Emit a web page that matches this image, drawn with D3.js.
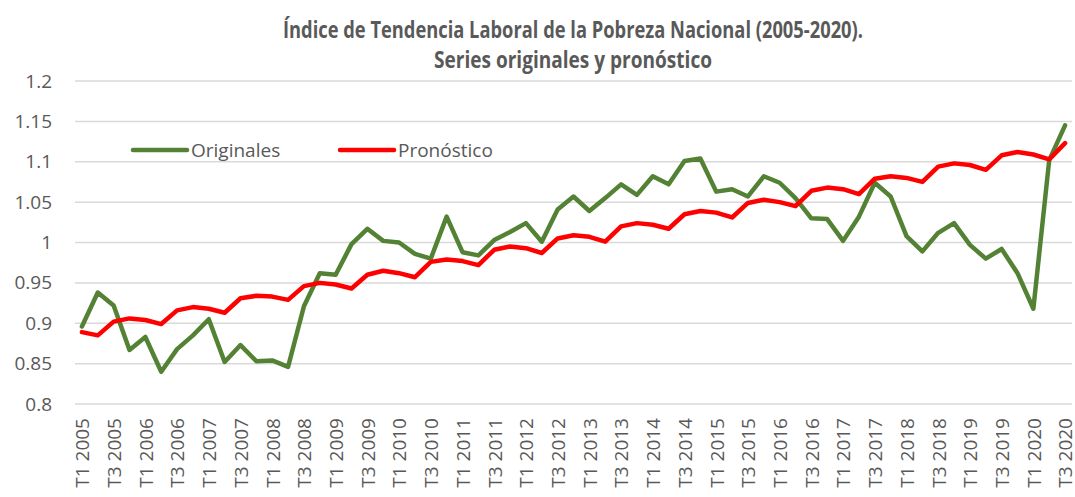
<!DOCTYPE html>
<html>
<head>
<meta charset="utf-8">
<script src="https://cdn.jsdelivr.net/npm/d3@7"></script>
<style>
  body { margin: 0; background: #fff; }
  text { font-family: "Open Sans", "DejaVu Sans", sans-serif; fill: #595959; }
</style>
</head>
<body>
<div id="chart"></div>
<script>
// categories: quarters T1/T3 ... of each year 2005-2020 (up to T3 2020)
var years = [2005, 2006, 2007, 2008, 2009, 2010, 2011, 2012, 2013, 2014, 2015, 2016, 2017, 2018, 2019, 2020];
var quarters = ["T1", "T2", "T3", "T4"];
var periods = [];
years.forEach(function(y) {
  quarters.forEach(function(q) {
    if (!(y == 2020 && q == "T4")) periods.push(q + " " + y);
  });
});

// series values
var originales = [0.896, 0.938, 0.922, 0.867, 0.883, 0.840, 0.868, 0.885, 0.905, 0.852,
  0.873, 0.853, 0.854, 0.846, 0.921, 0.962, 0.960, 0.998, 1.017, 1.002,
  1.000, 0.986, 0.980, 1.032, 0.988, 0.984, 1.003, 1.013, 1.024, 1.001,
  1.041, 1.057, 1.039, 1.055, 1.072, 1.059, 1.082, 1.072, 1.101, 1.104,
  1.063, 1.066, 1.057, 1.082, 1.074, 1.055, 1.030, 1.029, 1.002, 1.032,
  1.074, 1.057, 1.008, 0.989, 1.012, 1.024, 0.997, 0.980, 0.992, 0.962,
  0.918, 1.102, 1.145];

var pronostico = [0.889, 0.885, 0.902, 0.906, 0.904, 0.899, 0.916, 0.920, 0.918, 0.913,
  0.931, 0.934, 0.933, 0.929, 0.946, 0.950, 0.948, 0.943, 0.960, 0.965,
  0.962, 0.957, 0.976, 0.979, 0.977, 0.972, 0.991, 0.995, 0.993, 0.987,
  1.005, 1.009, 1.007, 1.001, 1.020, 1.024, 1.022, 1.017, 1.035, 1.039,
  1.037, 1.031, 1.049, 1.053, 1.050, 1.045, 1.064, 1.068, 1.066, 1.060,
  1.079, 1.082, 1.080, 1.075, 1.094, 1.098, 1.096, 1.090, 1.108, 1.112,
  1.109, 1.103, 1.123];

var yTicks = [0.8, 0.85, 0.9, 0.95, 1, 1.05, 1.1, 1.15, 1.2];
var xTickLabels = periods.filter(function(d, i) { return i % 2 == 0; });

var titleLines = ["Índice de Tendencia Laboral de la Pobreza Nacional (2005-2020).",
                  "Series originales y pronóstico"];
var seriesNames = ["Originales", "Pronóstico"];
var seriesColors = ["#548235", "#ff0000"];

var width = 1075, height = 497;
var plotLeft = 74, plotRight = 1073, plotTop = 81, plotBottom = 404;

var svg = d3.select("#chart")
  .append("svg")
    .attr("width", width)
    .attr("height", height);

// scales
var x = d3.scalePoint()
  .domain(periods)
  .range([plotLeft, plotRight])
  .padding(0.5);

var y = d3.scaleLinear()
  .domain([0.8, 1.2])
  .range([plotBottom, plotTop]);

// gridlines
svg.append("g")
  .selectAll("line")
  .data(yTicks)
  .enter().append("line")
    .attr("x1", plotLeft + 1)
    .attr("x2", plotRight - 1)
    .attr("y1", function(d) { return y(d); })
    .attr("y2", function(d) { return y(d); })
    .attr("stroke", "#d9d9d9")
    .attr("stroke-width", 1.5);

// Y axis
var yAxis = svg.append("g")
  .attr("transform", "translate(" + plotLeft + ",0)")
  .call(d3.axisLeft(y)
    .tickValues(yTicks)
    .tickSize(0)
    .tickPadding(22)
    .tickFormat(function(d) { return String(+d.toFixed(2)); }));
yAxis.select(".domain").remove();
yAxis.selectAll("text")
  .style("font-size", "19px")
  .style("font-family", "'Open Sans', sans-serif")
  .attr("fill", "#595959");

// X axis
var xAxis = svg.append("g")
  .attr("transform", "translate(0," + plotBottom + ")")
  .call(d3.axisBottom(x)
    .tickValues(xTickLabels)
    .tickSize(0));
xAxis.select(".domain").remove();
xAxis.selectAll("text")
  .attr("transform", "rotate(-90)")
  .attr("x", -14)
  .attr("y", 0)
  .attr("dy", "0.36em")
  .style("text-anchor", "end")
  .style("font-size", "19px")
  .style("font-family", "'Open Sans', sans-serif")
  .attr("fill", "#595959");

// lines
var line = d3.line()
  .x(function(d, i) { return x(periods[i]); })
  .y(function(d) { return y(d); });

[originales, pronostico].forEach(function(s, k) {
  svg.append("path")
    .datum(s)
    .attr("fill", "none")
    .attr("stroke", seriesColors[k])
    .attr("stroke-width", 4.5)
    .attr("stroke-linejoin", "round")
    .attr("stroke-linecap", "round")
    .attr("d", line);
});

// legend
var legendX = [133, 340];
seriesNames.forEach(function(name, k) {
  svg.append("line")
    .attr("x1", legendX[k])
    .attr("x2", legendX[k] + 54)
    .attr("y1", 150)
    .attr("y2", 150)
    .attr("stroke", seriesColors[k])
    .attr("stroke-width", 4.5)
    .attr("stroke-linecap", "round");
  svg.append("text")
    .attr("x", legendX[k] + 58)
    .attr("y", 157)
    .style("font-size", "19px")
    .text(name);
});

// title
var titleWidths = [580, 278];
titleLines.forEach(function(t, i) {
  svg.append("text")
    .attr("x", 573)
    .attr("y", 38 + i * 30)
    .attr("text-anchor", "middle")
    .attr("textLength", titleWidths[i])
    .attr("lengthAdjust", "spacingAndGlyphs")
    .style("font-size", "23px")
    .style("font-weight", "bold")
    .text(t);
});
</script>
</body>
</html>
